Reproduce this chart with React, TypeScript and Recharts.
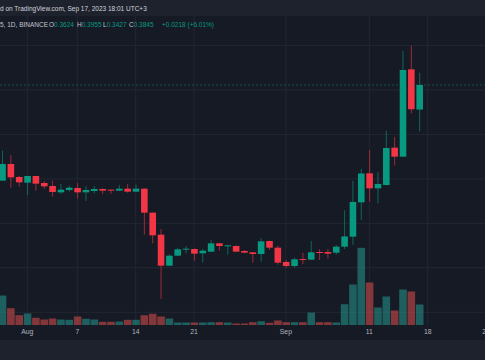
import React from 'react';
import { ComposedChart, Bar, XAxis, YAxis, CartesianGrid, ReferenceLine } from 'recharts';

const dates = [
  'Jul 29', 'Jul 30', 'Jul 31',
  'Aug 1', 'Aug 2', 'Aug 3', 'Aug 4', 'Aug 5', 'Aug 6', 'Aug 7', 'Aug 8', 'Aug 9', 'Aug 10',
  'Aug 11', 'Aug 12', 'Aug 13', 'Aug 14', 'Aug 15', 'Aug 16', 'Aug 17', 'Aug 18', 'Aug 19', 'Aug 20',
  'Aug 21', 'Aug 22', 'Aug 23', 'Aug 24', 'Aug 25', 'Aug 26', 'Aug 27', 'Aug 28', 'Aug 29', 'Aug 30', 'Aug 31',
  'Sep 1', 'Sep 2', 'Sep 3', 'Sep 4', 'Sep 5', 'Sep 6', 'Sep 7', 'Sep 8', 'Sep 9', 'Sep 10',
  'Sep 11', 'Sep 12', 'Sep 13', 'Sep 14', 'Sep 15', 'Sep 16', 'Sep 17',
];

const openP = [
  0.2984, 0.3134, 0.3017, 0.2966, 0.3026, 0.2963, 0.2936, 0.2879, 0.2900, 0.2918,
  0.2879, 0.2891, 0.2909, 0.2903, 0.2894, 0.2912, 0.2885, 0.2912, 0.2696, 0.2498,
  0.2219, 0.2309, 0.2363, 0.2369, 0.2330, 0.2345, 0.2420, 0.2393, 0.2396, 0.2351,
  0.2339, 0.2324, 0.2441, 0.2381, 0.2252, 0.2216, 0.2279, 0.2273, 0.2342, 0.2342,
  0.2336, 0.2390, 0.2480, 0.2789, 0.3050, 0.2915, 0.2945, 0.3281, 0.3200, 0.3986,
  0.3624,
];
const highP = [
  0.3254, 0.3215, 0.3026, 0.3026, 0.3026, 0.2981, 0.2984, 0.2954, 0.2939, 0.2963,
  0.2933, 0.2936, 0.2914, 0.2905, 0.2945, 0.2954, 0.2948, 0.2914, 0.2698, 0.2549,
  0.2321, 0.2381, 0.2396, 0.2374, 0.2369, 0.2450, 0.2423, 0.2405, 0.2401, 0.2360,
  0.2342, 0.2465, 0.2444, 0.2399, 0.2270, 0.2291, 0.2336, 0.2441, 0.2366, 0.2369,
  0.2405, 0.2718, 0.2981, 0.3089, 0.3260, 0.3059, 0.3434, 0.3377, 0.4151, 0.4199,
  0.3955,
];
const lowP = [
  0.2981, 0.2921, 0.2930, 0.2855, 0.2894, 0.2909, 0.2840, 0.2864, 0.2885, 0.2822,
  0.2801, 0.2870, 0.2864, 0.2864, 0.2891, 0.2876, 0.2882, 0.2498, 0.2420, 0.1919,
  0.2216, 0.2306, 0.2330, 0.2264, 0.2246, 0.2342, 0.2354, 0.2318, 0.2342, 0.2333,
  0.2246, 0.2255, 0.2360, 0.2228, 0.2201, 0.2201, 0.2234, 0.2270, 0.2270, 0.2282,
  0.2318, 0.2369, 0.2405, 0.2630, 0.2795, 0.2780, 0.2940, 0.3119, 0.3197, 0.3590,
  0.3427,
];
const closeP = [
  0.3134, 0.3014, 0.2969, 0.3026, 0.2957, 0.2933, 0.2882, 0.2903, 0.2921, 0.2879,
  0.2900, 0.2909, 0.2894, 0.2894, 0.2912, 0.2885, 0.2912, 0.2696, 0.2492, 0.2219,
  0.2309, 0.2366, 0.2372, 0.2327, 0.2354, 0.2420, 0.2396, 0.2402, 0.2345, 0.2336,
  0.2324, 0.2438, 0.2381, 0.2246, 0.2216, 0.2276, 0.2270, 0.2339, 0.2333, 0.2327,
  0.2390, 0.2482, 0.2792, 0.3049, 0.2915, 0.2954, 0.3278, 0.3200, 0.3980, 0.3627,
  0.3845,
];
// volume (millions, approx.)
const volume = [
  29.5, 16.8, 9.8, 11.5, 7.2, 5.5, 6.5, 5.5, 5.2, 8.5,
  6.2, 5.5, 3.2, 3.2, 3.5, 5.2, 5.2, 9.8, 11.2, 8.5,
  6.5, 2.5, 2.5, 2.5, 2.5, 2.8, 2.8, 2.5, 1.5, 1.5,
  2.8, 3.8, 2.2, 4.5, 2.8, 2.8, 2.8, 12.5, 2.8, 2.8,
  2.5, 20.8, 40.5, 77.2, 42.5, 17.5, 28.5, 14.5, 35.5, 33.5,
  20.5,
];

const tickDays = [3, 9, 16, 23, 34, 44, 51, 58];
const tickLabels = ['Aug', '7', '14', '21', 'Sep', '11', '18', '25'];
const priceGrid = [0.42, 0.40, 0.38, 0.36, 0.34, 0.32, 0.30, 0.28, 0.26, 0.24, 0.22, 0.20, 0.18];
const lastClose = 0.3845;

const GREEN = '#089981';
const RED = '#f23645';
const VOL_GREEN = '#26a69a';
const VOL_RED = '#ef5350';
const FONT = '"Liberation Sans", Arial, sans-serif';

const data = dates.map((date, i) => ({
  d: i,
  date,
  o: openP[i],
  h: highP[i],
  l: lowP[i],
  c: closeP[i],
  range: [lowP[i], highP[i]],
  vol: volume[i],
}));

const CandleShape = (props: any) => {
  const { x, y, width, height, payload } = props;
  if (x == null || y == null || !payload) return null;
  const { o, h, l, c } = payload;
  const up = c >= o;
  const color = up ? GREEN : RED;
  const top = Math.min(y, y + height);
  const hh = Math.abs(height);
  const range = h - l || 1e-9;
  const cx = x + width / 2;
  const bTop = top + ((h - Math.max(o, c)) * hh) / range;
  const bBot = top + ((h - Math.min(o, c)) * hh) / range;
  const bw = 6.6;
  return (
    <g>
      <line x1={cx} x2={cx} y1={top} y2={top + hh} stroke={color} strokeWidth={1} strokeOpacity={0.6} />
      <rect x={cx - bw / 2} y={bTop} width={bw} height={Math.max(1, bBot - bTop)} fill={color} />
    </g>
  );
};

const VolShape = (props: any) => {
  const { x, y, width, height, payload } = props;
  if (x == null || y == null || !payload) return null;
  const up = payload.c >= payload.o;
  const cx = x + width / 2;
  const vw = 7.6;
  const top = Math.min(y, y + height);
  return (
    <rect x={cx - vw / 2} y={top} width={vw} height={Math.abs(height)} fill={up ? VOL_GREEN : VOL_RED} fillOpacity={0.5} />
  );
};

const labelFor = (v: number) => {
  const idx = tickDays.indexOf(v);
  return idx >= 0 ? tickLabels[idx] : '';
};

export default function App() {
  return (
    <div
      style={{
        position: 'absolute',
        left: 0,
        top: 0,
        width: 485,
        height: 360,
        overflow: 'hidden',
        background: '#161a25',
        fontFamily: FONT,
      }}
    >
      <ComposedChart
        width={505}
        height={340}
        data={data}
        margin={{ top: 0, right: 0, bottom: 0, left: 0 }}
        barSize={7}
        barGap={-7}
      >
        <CartesianGrid
          stroke="#232733"
          yAxisId="p"
          horizontalValues={priceGrid}
          verticalValues={tickDays}
        />
        <XAxis
          dataKey="d"
          type="number"
          domain={[-0.2637, 60.266]}
          allowDataOverflow
          ticks={tickDays}
          interval={0}
          tickFormatter={labelFor}
          axisLine={false}
          tickLine={false}
          tickSize={0}
          tickMargin={4}
          height={15}
          tick={{ fill: '#b2b5be', fontSize: 6.8, fontFamily: FONT }}
        />
        <YAxis yAxisId="p" type="number" hide domain={[0.1685, 0.461]} allowDataOverflow ticks={priceGrid} />
        <YAxis yAxisId="v" type="number" hide domain={[0, 325]} allowDataOverflow />
        <ReferenceLine yAxisId="p" y={lastClose} stroke={GREEN} strokeDasharray="2 2" strokeOpacity={0.45} />
        <Bar yAxisId="v" dataKey="vol" shape={<VolShape />} isAnimationActive={false} />
        <Bar yAxisId="p" dataKey="range" shape={<CandleShape />} isAnimationActive={false} />
      </ComposedChart>

      <div
        style={{
          position: 'absolute',
          left: 0,
          top: 0,
          width: 485,
          height: 15.5,
          background: '#1e222d',
          color: '#d1d4dc',
          fontSize: 6.5,
          lineHeight: '15.5px',
          whiteSpace: 'nowrap',
          paddingTop: 1,
          boxSizing: 'border-box',
        }}
      >
        d on TradingView.com, Sep 17, 2023 18:01 UTC+3
      </div>

      <div style={{ position: 'absolute', left: 0, top: 20, height: 9, width: 485, fontSize: 6.5, lineHeight: '9px', whiteSpace: 'nowrap', color: '#c3c6ce' }}>
        <span style={{ position: 'absolute', left: 0 }}>5, 1D, BINANCE</span>
        <span style={{ position: 'absolute', left: 49 }}>O<span style={{ color: GREEN }}>0.3624</span></span>
        <span style={{ position: 'absolute', left: 77 }}>H<span style={{ color: GREEN }}>0.3955</span></span>
        <span style={{ position: 'absolute', left: 103 }}>L<span style={{ color: GREEN }}>0.3427</span></span>
        <span style={{ position: 'absolute', left: 129 }}>C<span style={{ color: GREEN }}>0.3845</span></span>
        <span style={{ position: 'absolute', left: 162, color: GREEN }}>+0.0218 (+6.01%)</span>
      </div>

      <div style={{ position: 'absolute', left: 0, top: 340, width: 485, height: 20, background: '#1e222d' }} />
    </div>
  );
}
